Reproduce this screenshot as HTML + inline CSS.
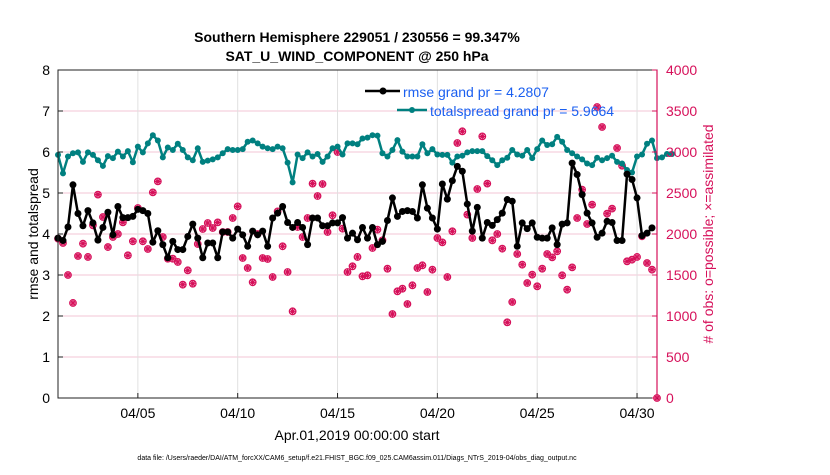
<!DOCTYPE html>
<html><head><meta charset="utf-8"><style>
body{margin:0;background:#fff;font-family:"Liberation Sans",sans-serif}
svg text{font-family:"Liberation Sans",sans-serif}
</style></head><body>
<svg id="chart" width="830" height="470">
<g id="grid"></g><g id="series"></g><g id="axes"></g>
<text x="357" y="42" font-size="14" font-weight="bold" text-anchor="middle">Southern Hemisphere 229051 / 230556 = 99.347%</text>
<text x="357" y="61" font-size="14" font-weight="bold" text-anchor="middle">SAT_U_WIND_COMPONENT @ 250 hPa</text>
<text x="357" y="440" font-size="14" text-anchor="middle">Apr.01,2019 00:00:00 start</text>
<text transform="translate(38,234) rotate(-90)" font-size="14" text-anchor="middle">rmse and totalspread</text>
<text transform="translate(713,234) rotate(-90)" font-size="14" fill="#d6105a" text-anchor="middle"># of obs: o=possible; ×=assimilated</text>
<text x="357" y="460" font-size="7" text-anchor="middle">data file: /Users/raeder/DAI/ATM_forcXX/CAM6_setup/f.e21.FHIST_BGC.f09_025.CAM6assim.011/Diags_NTrS_2019-04/obs_diag_output.nc</text>
<g>
<line x1="365" y1="91" x2="400" y2="91" stroke="#000" stroke-width="2.5"/><circle cx="383" cy="91" r="3.5" fill="#000"/>
<text x="403" y="97" font-size="14" fill="#1a5ff0">rmse grand pr = 4.2807</text>
<line x1="397" y1="110" x2="427" y2="110" stroke="#008080" stroke-width="2.5"/><circle cx="412" cy="110" r="3" fill="#008080"/>
<text x="430" y="116" font-size="14" fill="#1a5ff0">totalspread grand pr = 5.9664</text>
</g>
</svg>
<script>
const rmse=[3.9,3.84,4.17,5.2,4.5,4.2,4.57,4.27,3.85,4.16,4.53,3.98,4.67,4.4,4.4,4.43,4.6,4.57,4.5,3.8,4.08,3.74,3.42,3.82,3.62,3.62,3.94,4.24,3.9,3.42,3.78,3.78,3.42,4.05,4.05,3.9,4.12,3.98,3.7,4.07,3.98,4.07,3.7,4.39,4.51,4.67,4.28,4.16,4.28,4.16,3.74,4.39,4.39,4.2,4.2,4.27,4.27,4.4,3.9,4.02,3.86,4.16,
3.9,4.16,3.74,3.82,4.33,4.88,4.43,4.55,4.57,4.55,4.39,5.2,4.63,4.39,4.12,5.22,4.85,5.3,5.65,5.53,4.73,4.07,4.65,3.9,4.28,4.21,4.35,4.51,4.84,4.8,3.7,4.27,4.13,4.27,3.92,3.9,3.9,4.15,3.74,4.24,4.27,5.73,5.45,4.96,4.51,4.27,3.92,4.02,4.31,4.28,3.84,3.84,5.46,5.33,4.88,3.96,4.02,4.15];
const spread=[5.93,5.48,5.89,5.97,5.99,5.76,5.99,5.93,5.8,5.66,5.9,5.85,6.01,5.89,6.02,5.75,6.13,5.99,6.21,6.41,6.28,5.87,6.11,6.05,6.2,6.05,5.87,5.8,6.09,5.76,5.79,5.82,5.87,5.97,6.07,6.05,6.05,6.07,6.25,6.28,6.21,6.13,6.09,6.07,6.13,6.09,5.74,5.26,5.94,5.85,5.99,5.89,5.95,5.76,5.89,6.09,6.13,5.94,6.21,6.21,6.19,6.33,
6.35,6.41,6.4,5.97,5.89,6.05,6.29,6.01,5.89,5.89,5.89,6.19,5.97,6.07,5.94,5.93,5.93,5.74,5.89,5.91,5.99,6.02,6.02,6.02,5.9,5.8,5.68,5.8,5.86,6.05,5.94,5.91,6.05,5.85,6.07,6.28,6.17,6.19,6.37,6.25,6.05,5.97,5.89,5.82,5.72,5.68,5.86,5.8,5.85,5.91,5.76,5.72,5.56,5.5,5.89,5.94,6.2,6.28,5.85,5.87,5.95,5.95];
const obs=[1943,1890,1500,1159,1732,1882,1720,2106,2480,2207,1841,1963,2000,2142,1740,1911,2317,1911,1817,2508,2642,1963,1699,1699,1659,1382,1557,1394,1878,2061,2134,2073,2142,2024,2024,2195,2337,1707,1585,1411,2000,1707,1695,1476,2276,1850,1537,1057,2085,1963,2195,2614,2463,2610,2024,2228,3000,2065,1537,1606,1720,1484,
1496,1829,2053,1923,1577,1024,1301,1333,1146,1374,1585,1618,1293,1565,1951,1898,1476,2033,3110,3252,2236,1951,2549,3191,2614,1923,2000,1821,923,1171,1756,1626,1402,1504,1362,1577,1756,1715,1789,1496,1321,1593,2195,2541,2122,2358,3549,3305,2248,2309,3049,2833,1667,1687,1720,1972,1646,1565,0];
const leftTicks=[0,1,2,3,4,5,6,7,8];
const rightTicks=[0,500,1000,1500,2000,2500,3000,3500,4000];
const dayTicks=[4,9,14,19,24,29];
const dayLabels=["04/05","04/10","04/15","04/20","04/25","04/30"];
const NS="http://www.w3.org/2000/svg";
const X0=58,X1=657,Y0=398,Y1=70,DAYS=30;
const xDay=d=>X0+(X1-X0)*d/DAYS;
const xIdx=i=>xDay(i/4);
const yL=v=>Y0-(Y0-Y1)*v/8;
const yR=v=>Y0-(Y0-Y1)*v/4000;
function mk(tag,attrs,parent){const e=document.createElementNS(NS,tag);for(const k in attrs)e.setAttribute(k,attrs[k]);parent.appendChild(e);return e;}
const grid=document.getElementById('grid'),ser=document.getElementById('series'),ax=document.getElementById('axes');
rightTicks.forEach(t=>{const l=mk('line',{x1:X0,x2:X1,y1:yR(t),y2:yR(t),stroke:'#f3c6d6','stroke-width':1},grid);

});
dayTicks.forEach((d,i)=>{const l=mk('line',{x1:xDay(d),x2:xDay(d),y1:Y1,y2:Y0,stroke:'#e0e0e0','stroke-width':1},grid);


mk('line',{x1:xDay(d),x2:xDay(d),y1:Y0,y2:Y0-5,stroke:'#222'},ax);
const t=mk('text',{x:xDay(d),y:Y0+20,'font-size':14,'text-anchor':'middle'},ax);t.textContent=dayLabels[i];

});
mk('rect',{x:X0,y:Y1,width:X1-X0,height:Y0-Y1,fill:'none',stroke:'#222','stroke-width':1},ax);
mk('line',{x1:X1,x2:X1,y1:Y1,y2:Y0,stroke:'#d6105a','stroke-width':1.2},ax);
leftTicks.forEach(t=>{mk('line',{x1:X0,x2:X0+5,y1:yL(t),y2:yL(t),stroke:'#222'},ax);
const e=mk('text',{x:X0-8,y:yL(t)+5,'font-size':14,'text-anchor':'end'},ax);e.textContent=t;

});
rightTicks.forEach(t=>{mk('line',{x1:X1,x2:X1-5,y1:yR(t),y2:yR(t),stroke:'#d6105a'},ax);
const e=mk('text',{x:X1+9,y:yR(t)+5,'font-size':14,fill:'#d6105a'},ax);e.textContent=t;

});
// obs markers
obs.forEach((v,i)=>{const g=mk('g',{},ser);


const x=xIdx(i),y=yR(v);
mk('circle',{cx:x,cy:y,r:3.3,fill:'none',stroke:'#d6105a','stroke-width':1.2},g);
mk('path',{d:`M${x-3},${y}H${x+3}M${x},${y-3}V${y+3}M${x-2.2},${y-2.2}L${x+2.2},${y+2.2}M${x-2.2},${y+2.2}L${x+2.2},${y-2.2}`,stroke:'#d6105a','stroke-width':1.2},g);});
function line(arr,color,w,r,name){
const p=mk('polyline',{points:arr.map((v,i)=>xIdx(i)+','+yL(v)).join(' '),fill:'none',stroke:color,'stroke-width':w,'stroke-linejoin':'round'},ser);


arr.forEach((v,i)=>{const c=mk('circle',{cx:xIdx(i),cy:yL(v),r:r,fill:color},ser);

});}
line(spread,'#008080',2.5,3,'totalspread');
line(rmse,'#000',2.5,3.5,'rmse');
</script>
</body></html>
